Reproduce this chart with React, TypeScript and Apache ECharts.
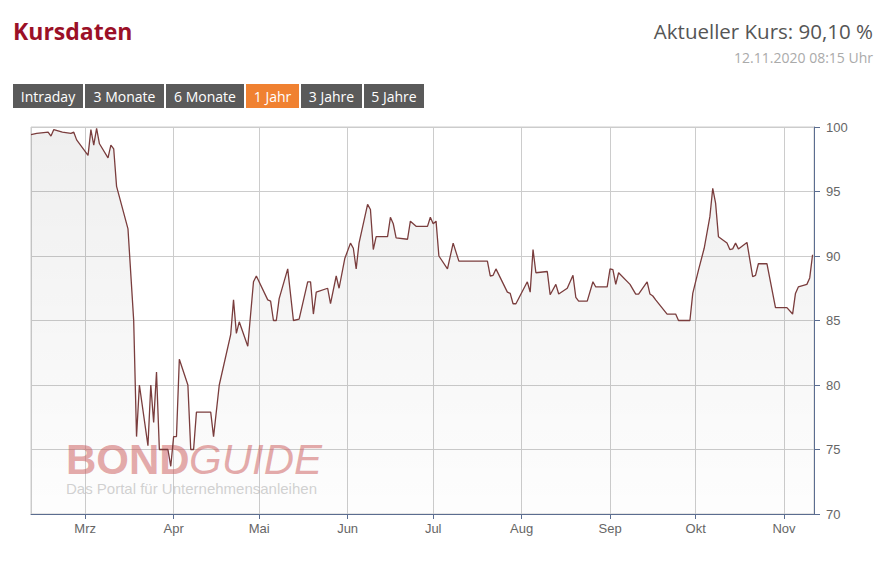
import React, { useEffect, useRef } from 'react';
import * as echarts from 'echarts';

const dates = [
  '2020-02-11', '2020-02-13', '2020-02-17', '2020-02-18', '2020-02-19', '2020-02-22', '2020-02-25', '2020-02-26',
  '2020-02-27', '2020-03-02', '2020-03-03', '2020-03-04', '2020-03-05', '2020-03-06', '2020-03-09', '2020-03-10',
  '2020-03-11', '2020-03-12', '2020-03-16', '2020-03-18', '2020-03-19', '2020-03-20', '2020-03-23', '2020-03-24',
  '2020-03-25', '2020-03-26', '2020-03-27', '2020-03-30', '2020-03-31', '2020-04-01', '2020-04-02', '2020-04-03',
  '2020-04-06', '2020-04-07', '2020-04-08', '2020-04-09', '2020-04-14', '2020-04-15', '2020-04-17', '2020-04-21',
  '2020-04-22', '2020-04-23', '2020-04-24', '2020-04-27', '2020-04-29', '2020-04-30', '2020-05-04', '2020-05-05',
  '2020-05-06', '2020-05-07', '2020-05-08', '2020-05-11', '2020-05-13', '2020-05-15', '2020-05-18', '2020-05-19',
  '2020-05-20', '2020-05-21', '2020-05-25', '2020-05-26', '2020-05-28', '2020-05-29', '2020-05-31', '2020-06-02',
  '2020-06-03', '2020-06-04', '2020-06-05', '2020-06-08', '2020-06-09', '2020-06-10', '2020-06-11', '2020-06-15',
  '2020-06-16', '2020-06-17', '2020-06-18', '2020-06-22', '2020-06-23', '2020-06-25', '2020-06-29', '2020-06-30',
  '2020-07-01', '2020-07-02', '2020-07-03', '2020-07-06', '2020-07-08', '2020-07-10', '2020-07-20', '2020-07-21',
  '2020-07-22', '2020-07-23', '2020-07-27', '2020-07-28', '2020-07-29', '2020-07-30', '2020-08-03', '2020-08-04',
  '2020-08-05', '2020-08-06', '2020-08-10', '2020-08-11', '2020-08-13', '2020-08-14', '2020-08-17', '2020-08-19',
  '2020-08-20', '2020-08-21', '2020-08-24', '2020-08-26', '2020-08-27', '2020-08-31', '2020-09-01', '2020-09-02',
  '2020-09-03', '2020-09-04', '2020-09-08', '2020-09-10', '2020-09-11', '2020-09-14', '2020-09-15', '2020-09-16',
  '2020-09-17', '2020-09-21', '2020-09-24', '2020-09-25', '2020-09-29', '2020-09-30', '2020-10-02', '2020-10-04',
  '2020-10-06', '2020-10-07', '2020-10-08', '2020-10-09', '2020-10-12', '2020-10-13', '2020-10-14', '2020-10-15',
  '2020-10-16', '2020-10-19', '2020-10-21', '2020-10-22', '2020-10-23', '2020-10-26', '2020-10-29', '2020-11-02',
  '2020-11-04', '2020-11-05', '2020-11-06', '2020-11-09', '2020-11-10', '2020-11-11',
];

const prices = [
  99.4, 99.5, 99.6, 99.3, 99.8, 99.6, 99.5, 99.6,
  99.0, 97.8, 99.8, 98.6, 99.9, 98.7, 97.6, 98.6,
  98.3, 95.4, 92.1, 85.0, 76.0, 80.0, 75.3, 80.0,
  77.1, 81.0, 75.0, 75.0, 73.7, 76.0, 76.0, 82.0,
  80.0, 75.0, 75.0, 77.9, 77.9, 76.0, 80.0, 83.9,
  86.6, 84.0, 84.9, 83.0, 88.0, 88.45, 86.6, 86.5,
  85.0, 85.0, 86.7, 89.0, 85.0, 85.1, 88.0, 88.0,
  85.5, 87.2, 87.5, 86.3, 88.45, 87.5, 89.8, 91.0,
  90.6, 89.0, 91.0, 94.0, 93.6, 90.5, 91.5, 91.5,
  93.0, 92.5, 91.4, 91.3, 92.7, 92.3, 92.3, 93.0,
  92.5, 92.7, 90.0, 89.0, 91.0, 89.6, 89.6, 88.45,
  88.5, 89.0, 87.2, 87.1, 86.3, 86.3, 88.0, 87.2,
  90.5, 88.7, 88.8, 87.0, 87.8, 87.05, 87.5, 88.5,
  86.8, 86.5, 86.5, 88.0, 87.6, 87.6, 89.0, 88.95,
  87.8, 88.7, 87.8, 87.05, 87.05, 88.0, 87.05, 86.9,
  86.6, 85.5, 85.5, 85.0, 85.0, 87.1, 88.9, 90.6,
  93.05, 95.25, 94.1, 91.5, 91.0, 90.5, 90.55, 91.0,
  90.55, 91.05, 88.4, 88.5, 89.4, 89.4, 86.0, 86.0,
  85.5, 87.1, 87.6, 87.8, 88.3, 90.1,
];

const monthNames = ['Jan', 'Feb', 'Mrz', 'Apr', 'Mai', 'Jun', 'Jul', 'Aug', 'Sep', 'Okt', 'Nov', 'Dez'];
const ranges = ['Intraday', '3 Monate', '6 Monate', '1 Jahr', '3 Jahre', '5 Jahre'];
const activeRange = '1 Jahr';

const DAY = 24 * 3600 * 1000;

const buildButtons = () => {
  const widths = [70, 79, 78, 53, 61, 60];
  let x = 13;
  return ranges.map((label, i) => {
    const el = {
      type: 'group',
      x,
      y: 84,
      children: [
        {
          type: 'rect',
          shape: { x: 0, y: 0, width: widths[i], height: 24 },
          style: { fill: label === activeRange ? '#f08131' : '#5a5a5a' },
        },
        {
          type: 'text',
          style: {
            text: label,
            x: widths[i] / 2,
            y: 12,
            align: 'center',
            verticalAlign: 'middle',
            font: '14px "Open Sans"',
            fill: '#ffffff',
          },
        },
      ],
    };
    x += widths[i] + 2;
    return el;
  });
};

const App: React.FC = () => {
  const chartRef = useRef<HTMLDivElement>(null);

  useEffect(() => {
    if (!chartRef.current) return;
    const chart = echarts.init(chartRef.current, undefined, { renderer: 'svg' });

    const option = {
      animation: false,
      backgroundColor: '#ffffff',
      grid: {
        left: 31,
        right: 69,
        top: 127,
        bottom: 49,
        show: true,
        borderColor: '#cccccc',
        borderWidth: 1,
      },
      xAxis: {
        type: 'time',
        min: new Date(2020, 1, 11).getTime(),
        max: new Date(2020, 10, 11, 12).getTime(),
        splitNumber: 9,
        minInterval: 28 * DAY,
        maxInterval: 31 * DAY,
        axisLine: { show: true, lineStyle: { color: '#5b6d90', width: 1 } },
        axisTick: { show: true, length: 5, lineStyle: { color: '#5b6d90' } },
        axisLabel: {
          color: '#666666',
          fontSize: 13,
          fontFamily: '"Liberation Sans", Arial',
          margin: 8,
          showMinLabel: false,
          showMaxLabel: false,
          formatter: (value: number) => monthNames[new Date(value).getMonth()],
        },
        splitLine: { show: true, lineStyle: { color: '#cccccc', width: 1 } },
      },
      yAxis: {
        type: 'value',
        position: 'right',
        min: 70,
        max: 100,
        interval: 5,
        axisLine: { show: true, lineStyle: { color: '#5b6d90', width: 1 } },
        axisTick: { show: true, length: 6, lineStyle: { color: '#5b6d90' } },
        axisLabel: {
          color: '#666666',
          fontSize: 13,
          fontFamily: '"Liberation Sans", Arial',
          margin: 12,
        },
        splitLine: { show: true, lineStyle: { color: '#cccccc', width: 1 } },
      },
      graphic: [
        {
          type: 'text',
          style: {
            text: 'Kursdaten',
            x: 13,
            y: 31,
            verticalAlign: 'middle',
            font: 'bold 23px "Open Sans"',
            fill: '#9b1027',
          },
        },
        {
          type: 'text',
          style: {
            text: 'Aktueller Kurs: 90,10 %',
            x: 873,
            y: 31,
            align: 'right',
            verticalAlign: 'middle',
            font: '20.5px "Open Sans"',
            fill: '#555555',
          },
        },
        {
          type: 'text',
          style: {
            text: '12.11.2020 08:15 Uhr',
            x: 873,
            y: 57,
            align: 'right',
            verticalAlign: 'middle',
            font: '14px "Open Sans"',
            fill: '#aaaaaa',
          },
        },
        ...buildButtons(),
        {
          type: 'text',
          z: 1,
          style: {
            text: 'BOND',
            x: 66,
            y: 459,
            verticalAlign: 'middle',
            font: 'bold 42px "Liberation Sans"',
            fill: 'rgba(205, 90, 90, 0.5)',
          },
        },
        {
          type: 'text',
          z: 1,
          style: {
            text: 'GUIDE',
            x: 189,
            y: 459,
            verticalAlign: 'middle',
            font: 'italic 42px "Liberation Sans"',
            fill: 'rgba(205, 90, 90, 0.5)',
          },
        },
        {
          type: 'text',
          z: 1,
          style: {
            text: 'Das Portal für Unternehmensanleihen',
            x: 66,
            y: 488,
            verticalAlign: 'middle',
            font: '15px "Liberation Sans"',
            fill: 'rgba(180, 180, 180, 0.6)',
          },
        },
      ],
      series: [
        {
          type: 'line',
          z: 3,
          data: dates.map((d, i) => [d, prices[i]]),
          symbol: 'none',
          lineStyle: { color: '#7a3d3d', width: 1.3 },
          areaStyle: {
            origin: 'start',
            color: {
              type: 'linear',
              x: 0,
              y: 0,
              x2: 0,
              y2: 1,
              colorStops: [
                { offset: 0, color: 'rgba(0, 0, 0, 0.09)' },
                { offset: 1, color: 'rgba(0, 0, 0, 0.01)' },
              ],
            },
          },
        },
      ],
    };

    chart.setOption(option as echarts.EChartsOption);

    return () => {
      chart.dispose();
    };
  }, []);

  return (
    <div
      ref={chartRef}
      style={{ position: 'fixed', left: 0, top: 0, width: 883, height: 563, background: '#fff' }}
    />
  );
};

export default App;
